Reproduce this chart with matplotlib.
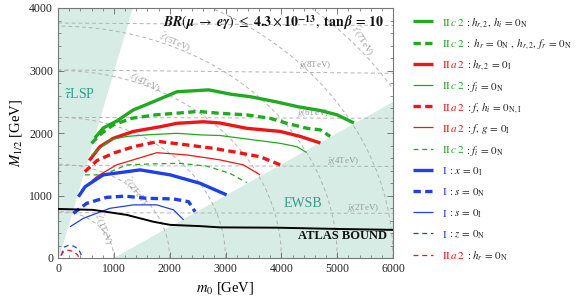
import numpy as np
import matplotlib
matplotlib.use("Agg")
import matplotlib.pyplot as plt
from matplotlib.patches import Polygon, Arc

plt.rcParams['font.family'] = ['Liberation Serif', 'DejaVu Serif']
plt.rcParams['mathtext.fontset'] = 'stix'

# ---------------- data ----------------
x_ticks = [0, 1000, 2000, 3000, 4000, 5000, 6000]
y_ticks = [0, 1000, 2000, 3000, 4000]

# shaded regions (boundaries)
stau_lsp_x = [0, 20, 1340, 0]
stau_lsp_y = [0, 0, 4000, 4000]
ewsb_x = [1000, 6000, 6000]
ewsb_y = [0, 0, 2500]

# gluino iso-mass (dashed grey) lines: y at m0=0 and m0=6000
gluino_labels = ['10TeV', '8TeV', '6TeV', '4TeV', '2TeV']
gluino_y_left = [3760, 3010, 2250, 1480, 725]
gluino_y_right = [3720, 2955, 2235, 1465, 715]

# slepton iso-mass arcs: intercepts on m0 and M1/2 axes
slepton_m0 = [1000, 2000, 3000, 4000, 5000, 6000, 7000]
slepton_m12 = [750, 1500, 2250, 3000, 3710, 4500, 5250]

# curves
c1_x = [660, 810, 1050, 1350, 1600, 2130, 2700, 3100, 3450, 3900, 4300, 4700, 5000, 5300]
c1_y = [1920, 2080, 2190, 2370, 2460, 2660, 2690, 2620, 2580, 2500, 2420, 2360, 2290, 2160]

c2_x = [600, 780, 990, 1320, 1740, 2100, 2515, 2900, 3380, 3800, 4100, 4460, 4700, 4875]
c2_y = [1835, 1995, 2130, 2235, 2290, 2315, 2345, 2315, 2290, 2235, 2155, 2075, 2050, 1945]

c3_x = [560, 750, 990, 1350, 1830, 2130, 2600, 2900, 3380, 3980, 4340, 4700]
c3_y = [1560, 1780, 1915, 2025, 2100, 2155, 2180, 2160, 2075, 2025, 1945, 1840]

c4_x = [600, 930, 1230, 1590, 2130, 2545, 2900, 3500, 3980, 4280, 4450]
c4_y = [1640, 1890, 1945, 1970, 1995, 1970, 1960, 1890, 1835, 1780, 1690]

c5_x = [480, 700, 1000, 1350, 1800, 2300, 2780, 3140, 3620, 3980]
c5_y = [1380, 1560, 1680, 1780, 1865, 1810, 1755, 1700, 1620, 1490]

c6_x = [425, 690, 1050, 1770, 2300, 2900, 3320, 3620]
c6_y = [1090, 1300, 1490, 1685, 1650, 1570, 1490, 1330]

c7_x = [480, 810, 1230, 1650, 2190, 2660, 3080, 3380]
c7_y = [1330, 1330, 1490, 1505, 1515, 1470, 1355, 1205]

c8_x = [365, 485, 810, 1470, 2010, 2545, 3020]
c8_y = [980, 1140, 1330, 1410, 1330, 1195, 1010]

c9_x = [275, 515, 870, 1200, 1590, 2070, 2340, 2455]
c9_y = [715, 875, 970, 990, 955, 945, 900, 740]

c10_x = [215, 455, 930, 1350, 1770, 2070, 2250]
c10_y = [500, 635, 795, 850, 850, 770, 610]

c11_x = [60, 100, 180, 280, 370, 420]
c11_y = [40, 170, 200, 190, 140, 40]

c12_x = [50, 100, 180, 280, 350, 380]
c12_y = [40, 100, 125, 105, 50, 0]

atlas_x = [0, 630, 1230, 1710, 2010, 2545, 2900, 3920, 4990, 6000]
atlas_y = [785, 770, 690, 580, 530, 510, 490, 485, 465, 450]

# legend labels: (prefix, rest)
leg_prefix = [r'$\mathrm{II}\,c\,2$', r'$\mathrm{II}\,c\,2$', r'$\mathrm{II}\,a\,2$', r'$\mathrm{II}\,c\,2$',
              r'$\mathrm{II}\,a\,2$', r'$\mathrm{II}\,a\,2$', r'$\mathrm{II}\,c\,2$', r'$\mathrm{I}$',
              r'$\mathrm{I}$', r'$\mathrm{I}$', r'$\mathrm{I}$', r'$\mathrm{II}\,a\,2$']
leg_rest = [r'$:h_{r,2},\,h_i\,=\,0_{\rm N}$',
            r'$:\;h_r\,=\,0_{\rm N}\;,\;h_{r,2},\,f_r\,=\,0_{\rm N}$',
            r'$:h_{r,2}\,=\,0_{\rm I}$',
            r'$:f_i\,=\,0_{\rm N}$',
            r'$:f,\,h_i\,=\,0_{\rm N,I}$',
            r'$:f,\,g\,=\,0_{\rm I}$',
            r'$:f_i\,=\,0_{\rm N}$',
            r'$:x\,=\,0_{\rm I}$',
            r'$:s\,=\,0_{\rm N}$',
            r'$:s\,=\,0_{\rm I}$',
            r'$:z\,=\,0_{\rm N}$',
            r'$:h_r\,=\,0_{\rm N}$']

# ---------------- styles ----------------
GREEN = '#1faa1f'
RED = '#ee1515'
BLUE = '#1f3fe8'
TEAL_FILL = '#d6ece5'
TEAL_TXT = '#2f9e8c'
GREY = '#b3b3b3'

THICK, THIN = 2.4, 0.9
DASH_THICK = (0, (2.2, 1.3))
DASH_THIN = (0, (4, 3))

curves = [
    (c1_x, c1_y, GREEN, THICK, '-'),
    (c2_x, c2_y, GREEN, THICK, DASH_THICK),
    (c3_x, c3_y, RED, THICK, '-'),
    (c4_x, c4_y, GREEN, THIN, '-'),
    (c5_x, c5_y, RED, THICK, DASH_THICK),
    (c6_x, c6_y, RED, THIN, '-'),
    (c7_x, c7_y, GREEN, THIN, DASH_THIN),
    (c8_x, c8_y, BLUE, THICK, '-'),
    (c9_x, c9_y, BLUE, THICK, DASH_THICK),
    (c10_x, c10_y, BLUE, THIN, '-'),
    (c11_x, c11_y, BLUE, THIN, DASH_THIN),
    (c12_x, c12_y, RED, THIN, DASH_THIN),
]

W, H = 576, 302
fig = plt.figure(figsize=(W / 100, H / 100), dpi=100)
ax = fig.add_axes([58 / W, 1 - 258 / H, (393 - 58) / W, (258 - 8) / H])
ax.set_xlim(0, 6000)
ax.set_ylim(0, 4000)

# shaded regions
ax.add_patch(Polygon(np.column_stack([stau_lsp_x, stau_lsp_y]), closed=True,
                     facecolor=TEAL_FILL, edgecolor='none', zorder=0))
ax.add_patch(Polygon(np.column_stack([ewsb_x, ewsb_y]), closed=True,
                     facecolor=TEAL_FILL, edgecolor='none', zorder=0))

# gluino lines
for lab, yl, yr in zip(gluino_labels, gluino_y_left, gluino_y_right):
    ax.plot([0, 6000], [yl, yr], color=GREY, lw=0.7, ls=(0, (4, 3)), zorder=1)
gl_pos = {'8TeV': (4600, 3070), '6TeV': (4570, 2300), '4TeV': (5110, 1545), '2TeV': (5470, 785)}
for lab, (gx, gy) in gl_pos.items():
    ax.text(gx, gy, r'$\tilde{g}$(' + lab + ')', color='#999999', fontsize=6.5,
            ha='center', va='center', zorder=2)

# slepton arcs
for mx, my in zip(slepton_m0, slepton_m12):
    ax.add_patch(Arc((0, 0), 2 * mx, 2 * my, theta1=0, theta2=90, color=GREY,
                     lw=0.7, ls=(0, (4, 3)), zorder=1))
sl_pos = [('5TeV', 2100, 3470, -22), ('4TeV', 1560, 2830, -25), ('2TeV', 1400, 1080, -52),
          ('1TeV', 820, 470, -68), ('7TeV', 5470, 3490, -58)]
for lab, sx, sy, rot in sl_pos:
    ax.text(sx, sy, r'$\tilde{\ell}$(' + lab + ')', color='#999999', fontsize=6.5,
            ha='center', va='center', rotation=rot, zorder=2)

# curves
for cx, cy, col, lw, ls in curves:
    ax.plot(cx, cy, color=col, lw=lw, ls=ls, zorder=3, solid_capstyle='butt')
ax.plot(atlas_x, atlas_y, color='black', lw=1.4, zorder=3)

# texts
ax.text(110, 2620, r'$\tilde{\tau}$LSP', color=TEAL_TXT, fontsize=10, ha='left', va='center')
ax.text(4380, 870, 'EWSB', color=TEAL_TXT, fontsize=10, ha='center', va='center')
ax.text(5900, 345, 'ATLAS BOUND', color='#111111', fontsize=9, fontweight='bold',
        ha='right', va='center')
title = (r'$\mathbfit{BR}(\mathbfit{\mu}\;\rightarrow\;\mathbfit{e\gamma})\ \leq\ '
         r'\mathbf{4.3}\times\mathbf{10}^{\mathbf{-13}},\ \mathbf{tan}\,\mathbfit{\beta}\,=\,\mathbf{10}$')
ax.text(0.975, 0.978, title, transform=ax.transAxes, fontsize=10, ha='right', va='top',
        color='#111111')

# axes styling
ax.set_xticks(x_ticks)
ax.set_yticks(y_ticks)
ax.set_xticks(np.arange(0, 6001, 200), minor=True)
ax.set_yticks(np.arange(0, 4001, 200), minor=True)
ax.tick_params(which='both', direction='in', top=True, right=True, colors='#666666',
               labelcolor='#222222', labelsize=8.5)
ax.tick_params(which='major', length=4, width=0.6)
ax.tick_params(which='minor', length=2, width=0.5)
for s in ax.spines.values():
    s.set_color('#777777')
    s.set_linewidth(0.8)
ax.set_xlabel(r'$m_0$ [GeV]', fontsize=10.5, labelpad=4)
ax.set_ylabel(r'$M_{1/2}$ [GeV]', fontsize=10.5, labelpad=4)

# legend (manual)
renderer = fig.canvas.get_renderer()
styles = [(c[2], c[3], c[4]) for c in curves]
pref_cols = [GREEN, GREEN, RED, GREEN, RED, RED, GREEN, BLUE, BLUE, BLUE, BLUE, RED]
y0, dy = 21.3, 21.2
for i, ((col, lw, ls), pre, rest, pc) in enumerate(zip(styles, leg_prefix, leg_rest, pref_cols)):
    yp = y0 + i * dy
    yf = 1 - yp / H
    fig.add_artist(plt.Line2D([413 / W, 433 / W], [yf, yf], color=col, lw=lw, ls=ls,
                              transform=fig.transFigure, solid_capstyle='butt'))
    t = fig.text(442 / W, yf, pre, color=pc, fontsize=8, ha='left', va='center_baseline')
    bb = t.get_window_extent(renderer)
    fig.text((bb.x1 + 1) / W, yf, rest, color='#222222', fontsize=8, ha='left',
             va='center_baseline')

fig.savefig('out.png', dpi=100)
